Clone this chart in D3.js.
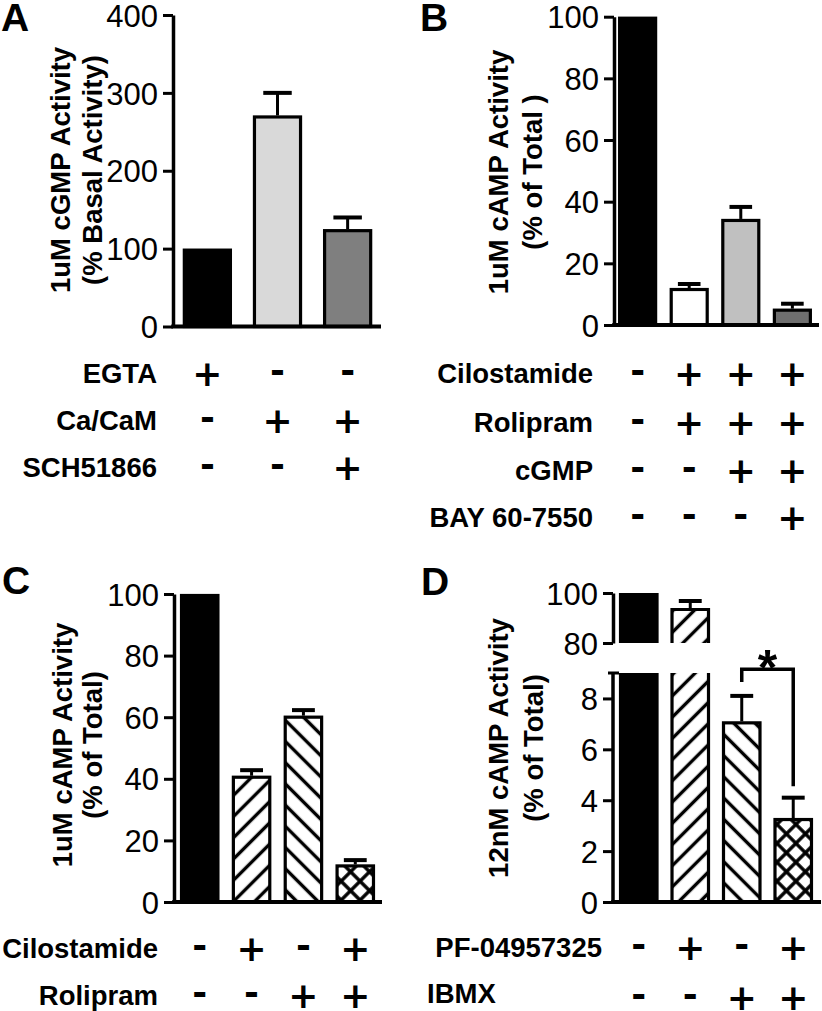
<!DOCTYPE html>
<html><head><meta charset="utf-8">
<script src="https://cdn.jsdelivr.net/npm/d3@7"></script>
<style>body{margin:0;background:#fff}svg{display:block}</style>
</head><body>
<svg id="c" width="822" height="1011"></svg>
<script>
// ---------------- DATA ----------------
// Panel A
const catsA = ["EGTA", "CaCaM", "CaCaM+SCH"];
const valuesA = [100, 271, 125];
const errorsA = [0, 29, 15];
const ticksA = [0, 100, 200, 300, 400];
const rowLabelsA = ["EGTA", "Ca/CaM", "SCH51866"];
const signsA = [["+", "-", "-"], ["-", "+", "+"], ["-", "-", "+"]];
const titleA = ["1uM cGMP Activity", "(% Basal Activity)"];

// Panel B
const catsB = ["ctrl", "cil+rol", "cil+rol+cGMP", "cil+rol+cGMP+BAY"];
const valuesB = [100, 12, 34.4, 5.3];
const errorsB = [0, 1.3, 3.9, 1.6];
const ticksB = [0, 20, 40, 60, 80, 100];
const rowLabelsB = ["Cilostamide", "Rolipram", "cGMP", "BAY 60-7550"];
const signsB = [["-", "+", "+", "+"], ["-", "+", "+", "+"], ["-", "-", "+", "+"], ["-", "-", "-", "+"]];
const titleB = ["1uM cAMP Activity", "(% of Total )"];

// Panel C
const catsC = ["ctrl", "cil", "rol", "cil+rol"];
const valuesC = [100, 41, 60.5, 12.2];
const errorsC = [0, 1.8, 1.8, 1.4];
const ticksC = [0, 20, 40, 60, 80, 100];
const rowLabelsC = ["Cilostamide", "Rolipram"];
const signsC = [["-", "+", "-", "+"], ["-", "-", "+", "+"]];
const titleC = ["1uM cAMP Activity", "(% of Total)"];

// Panel D (broken axis)
const catsD = ["ctrl", "PF", "IBMX", "PF+IBMX"];
const valuesD = [100, 94, 7.1, 3.3];
const errorsD = [0, 2.8, 1.0, 0.8];
const ticksDLow = [0, 2, 4, 6, 8];
const ticksDHigh = [80, 100];
const breakD = [9, 80];          // lower segment ends at 9, upper starts at 80
const rowLabelsD = ["PF-04957325", "IBMX"];
const signsD = [["-", "+", "-", "+"], ["-", "-", "+", "+"]];
const titleD = ["12nM cAMP Activity", "(% of Total)"];
const sigPairD = [2, 3];
const sigLevelsD = [8.65, 9.15, 4.55]; // left leg bottom, bracket top, right leg bottom
const sigLabelD = "*";

// ---------------- STYLE ----------------
const FONT = '"Liberation Sans", Arial, Helvetica, sans-serif';
const SIGNFONT = '"DejaVu Sans", sans-serif';
const svg = d3.select("#c");
svg.append("rect").attr("width", 822).attr("height", 1011).attr("fill", "#fff");
const defs = svg.append("defs");

function hatch(id, angle, spacing, cross) {
  const p = defs.append("pattern").attr("id", id)
    .attr("patternUnits", "userSpaceOnUse")
    .attr("width", spacing).attr("height", spacing)
    .attr("patternTransform", `rotate(${angle})`);
  p.append("rect").attr("width", spacing).attr("height", spacing).attr("fill", "#fff");
  p.append("line").attr("x1", spacing / 2).attr("x2", spacing / 2)
    .attr("y1", -1).attr("y2", spacing + 1).attr("stroke", "#000").attr("stroke-width", 3.4);
  if (cross) p.append("line").attr("y1", spacing / 2).attr("y2", spacing / 2)
    .attr("x1", -1).attr("x2", spacing + 1).attr("stroke", "#000").attr("stroke-width", 3.4);
}
hatch("fwd", 45, 15, false);
hatch("back", -45, 15, false);
hatch("cross", 45, 13.4, true);

const fillsA = ["#000", "#d9d9d9", "#7f7f7f"];
const fillsB = ["#000", "#fff", "#c0c0c0", "#6e6e6e"];
const fillsHatch = ["#000", "url(#fwd)", "url(#back)", "url(#cross)"];

function yAxis(g, x0, scale, ticks) {
  const ax = g.append("g").attr("transform", `translate(${x0},0)`)
    .call(d3.axisLeft(scale).tickValues(ticks).tickSize(10).tickSizeOuter(0).tickPadding(5).tickFormat(d3.format("d")))
    .attr("font-family", FONT).attr("font-size", 31);
  ax.select(".domain").attr("stroke", "#000").attr("stroke-width", 3.5);
  ax.selectAll(".tick line").attr("stroke", "#000").attr("stroke-width", 3);
  ax.selectAll(".tick text").attr("fill", "#000").attr("dy", "0.36em");
  return ax;
}

function title(g, lines, xs, yc) {
  lines.forEach((t, i) => {
    g.append("text").attr("transform", `translate(${xs[i]},${yc}) rotate(-90)`)
      .attr("text-anchor", "middle").attr("dy", "0.35em")
      .attr("font-family", FONT).attr("font-weight", "bold").attr("font-size", 27.5)
      .text(t);
  });
}

function letter(g, t, x, y) {
  g.append("text").attr("x", x).attr("y", y).attr("font-family", FONT)
    .attr("font-weight", "bold").attr("font-size", 39).text(t);
}

function rows(g, xs, cats, labels, signs, ys, labelX, anchors, labelYs) {
  labels.forEach((lab, r) => {
    g.append("text").attr("x", labelX[r]).attr("y", labelYs ? labelYs[r] : ys[r]).attr("dy", "0.35em")
      .attr("text-anchor", anchors[r]).attr("font-family", FONT).attr("font-weight", "bold")
      .attr("font-size", 27.5).text(lab);
    signs[r].forEach((s, i) => {
      const fs = 36;
      g.append("text").attr("x", xs(cats[i]) + xs.bandwidth() / 2)
        .attr("y", ys[r] + (s === "+" ? 0.36 : 0.27) * fs)
        .attr("text-anchor", "middle").attr("font-family", SIGNFONT).attr("font-weight", "bold")
        .attr("font-size", fs).text(s);
    });
  });
}

function errorBars(g, xs, ys, cats, vals, errs) {
  const cw = xs.bandwidth() * 0.58;
  cats.forEach((c, i) => {
    if (!errs[i]) return;
    const cx = xs(c) + xs.bandwidth() / 2;
    g.append("line").attr("x1", cx).attr("x2", cx).attr("y1", ys(vals[i])).attr("y2", ys(vals[i] + errs[i]))
      .attr("stroke", "#000").attr("stroke-width", 3);
    g.append("line").attr("x1", cx - cw / 2).attr("x2", cx + cw / 2)
      .attr("y1", ys(vals[i] + errs[i])).attr("y2", ys(vals[i] + errs[i]))
      .attr("stroke", "#000").attr("stroke-width", 4);
  });
}

function simplePanel(o) {
  const g = svg.append("g");
  const x = d3.scaleBand().domain(o.cats).range([o.x0, o.x1]).paddingInner(o.pi).paddingOuter(o.po);
  const y = d3.scaleLinear().domain([0, o.max]).range([o.yBase, o.yTop]);
  g.selectAll(null).data(o.cats).join("rect")
    .attr("x", d => x(d) + 1.5).attr("width", x.bandwidth() - 3)
    .attr("y", (d, i) => y(o.vals[i]) + 1.5)
    .attr("height", (d, i) => y(0) - y(o.vals[i]) - 1.5)
    .attr("fill", (d, i) => o.fills[i]).attr("stroke", "#000").attr("stroke-width", 3.2);
  errorBars(g, x, y, o.cats, o.vals, o.errs);
  yAxis(g, o.x0, y, o.ticks);
  g.append("line").attr("x1", o.x0 - 1.75).attr("x2", o.xAxisEnd).attr("y1", y(0)).attr("y2", y(0))
    .attr("stroke", "#000").attr("stroke-width", 4);
  title(g, o.title, o.titleX, o.titleY);
  letter(g, o.letter, o.letterX, o.letterY);
  rows(g, x, o.cats, o.rowLabels, o.signs, o.rowY, o.rowLabelX, o.rowAnchors);
  return { g, x, y };
}

// Panel A
simplePanel({
  cats: catsA, vals: valuesA, errs: errorsA, fills: fillsA, ticks: ticksA, max: 400,
  x0: 173, x1: 382, pi: 0.3, po: 0.14, yBase: 326.5, yTop: 15, xAxisEnd: 381,
  title: titleA, titleX: [60, 92], titleY: 170, letter: "A", letterX: 1, letterY: 31,
  rowLabels: rowLabelsA, signs: signsA, rowY: [373, 420, 467],
  rowLabelX: [157, 157, 157], rowAnchors: ["end", "end", "end"]
});

// Panel B
simplePanel({
  cats: catsB, vals: valuesB, errs: errorsB, fills: fillsB, ticks: ticksB, max: 100,
  x0: 614, x1: 816, pi: 0.244, po: 0.08, yBase: 325, yTop: 16.7, xAxisEnd: 819,
  title: titleB, titleX: [498, 532], titleY: 172, letter: "B", letterX: 420, letterY: 31,
  rowLabels: rowLabelsB, signs: signsB, rowY: [373, 422, 470, 517],
  rowLabelX: [593, 593, 593, 593], rowAnchors: ["end", "end", "end", "end"]
});

// Panel C
simplePanel({
  cats: catsC, vals: valuesC, errs: errorsC, fills: fillsHatch, ticks: ticksC, max: 100,
  x0: 174, x1: 381, pi: 0.24, po: 0.116, yBase: 902, yTop: 594, xAxisEnd: 382,
  title: titleC, titleX: [62, 92], titleY: 745, letter: "C", letterX: 2, letterY: 594,
  rowLabels: rowLabelsC, signs: signsC, rowY: [948, 995],
  rowLabelX: [158, 158], rowAnchors: ["end", "end"]
});

// Panel D (broken y axis)
(function () {
  const g = svg.append("g");
  const x0 = 613;
  const x = d3.scaleBand().domain(catsD).range([x0, 819]).paddingInner(0.233).paddingOuter(0.117);
  const yL = d3.scaleLinear().domain([0, breakD[0]]).range([902, 673]);
  const yU = d3.scaleLinear().domain([breakD[1], 100]).range([643, 593]);
  const bw = x.bandwidth();
  catsD.forEach((c, i) => {
    const v = valuesD[i];
    const l = x(c) + 1.5, r = x(c) + bw - 1.5;
    if (v > breakD[0]) {
      g.append("rect").attr("x", l).attr("width", r - l).attr("y", yL(breakD[0]))
        .attr("height", yL(0) - yL(breakD[0])).attr("fill", fillsHatch[i]);
      g.append("path").attr("d", `M${l},${yL(breakD[0])}V${yL(0)}H${r}V${yL(breakD[0])}`)
        .attr("fill", "none").attr("stroke", "#000").attr("stroke-width", 3.2);
      g.append("rect").attr("x", l).attr("width", r - l).attr("y", yU(v))
        .attr("height", yU(breakD[1]) - yU(v)).attr("fill", fillsHatch[i]);
      g.append("path").attr("d", `M${l},${yU(breakD[1])}V${yU(v) + 1.5}H${r}V${yU(breakD[1])}`)
        .attr("fill", "none").attr("stroke", "#000").attr("stroke-width", 3.2);
    } else {
      g.append("rect").attr("x", l).attr("width", r - l).attr("y", yL(v) + 1.5)
        .attr("height", yL(0) - yL(v) - 1.5).attr("fill", fillsHatch[i])
        .attr("stroke", "#000").attr("stroke-width", 3.2);
    }
  });
  const hi = catsD.map((c, i) => valuesD[i] > breakD[0]);
  errorBars(g, x, yU, catsD.filter((c, i) => hi[i]), valuesD.filter((v, i) => hi[i]), errorsD.filter((e, i) => hi[i]));
  errorBars(g, x, yL, catsD.filter((c, i) => !hi[i]), valuesD.filter((v, i) => !hi[i]), errorsD.filter((e, i) => !hi[i]));

  const axL = yAxis(g, x0, yL, ticksDLow);
  axL.select(".domain").attr("d", `M0,${yL(0)}V${yL(breakD[0])}`);
  g.append("line").attr("x1", x0 - 5).attr("x2", x0 + 6).attr("y1", yL(breakD[0])).attr("y2", yL(breakD[0]))
    .attr("stroke", "#000").attr("stroke-width", 3);
  yAxis(g, x0, yU, ticksDHigh);
  g.append("line").attr("x1", x0 - 1.75).attr("x2", 821).attr("y1", yL(0)).attr("y2", yL(0))
    .attr("stroke", "#000").attr("stroke-width", 4);

  const cxA = x(catsD[sigPairD[0]]) + bw / 2, cxB = x(catsD[sigPairD[1]]) + bw / 2;
  g.append("path")
    .attr("d", `M${cxA},${yL(sigLevelsD[0])}V${yL(sigLevelsD[1])}H${cxB}V${yL(sigLevelsD[2])}`)
    .attr("fill", "none").attr("stroke", "#000").attr("stroke-width", 3.5);
  g.append("text").attr("x", (cxA + cxB) / 2).attr("y", yL(sigLevelsD[1]) + 16)
    .attr("text-anchor", "middle").attr("font-family", FONT).attr("font-weight", "bold")
    .attr("font-size", 50).text(sigLabelD);

  title(g, titleD, [498, 533], 748);
  letter(g, "D", 421, 595);
  rows(g, x, catsD, rowLabelsD, signsD, [947, 997], [602, 427], ["end", "start"], [947, 993]);
})();
</script>
</body></html>
